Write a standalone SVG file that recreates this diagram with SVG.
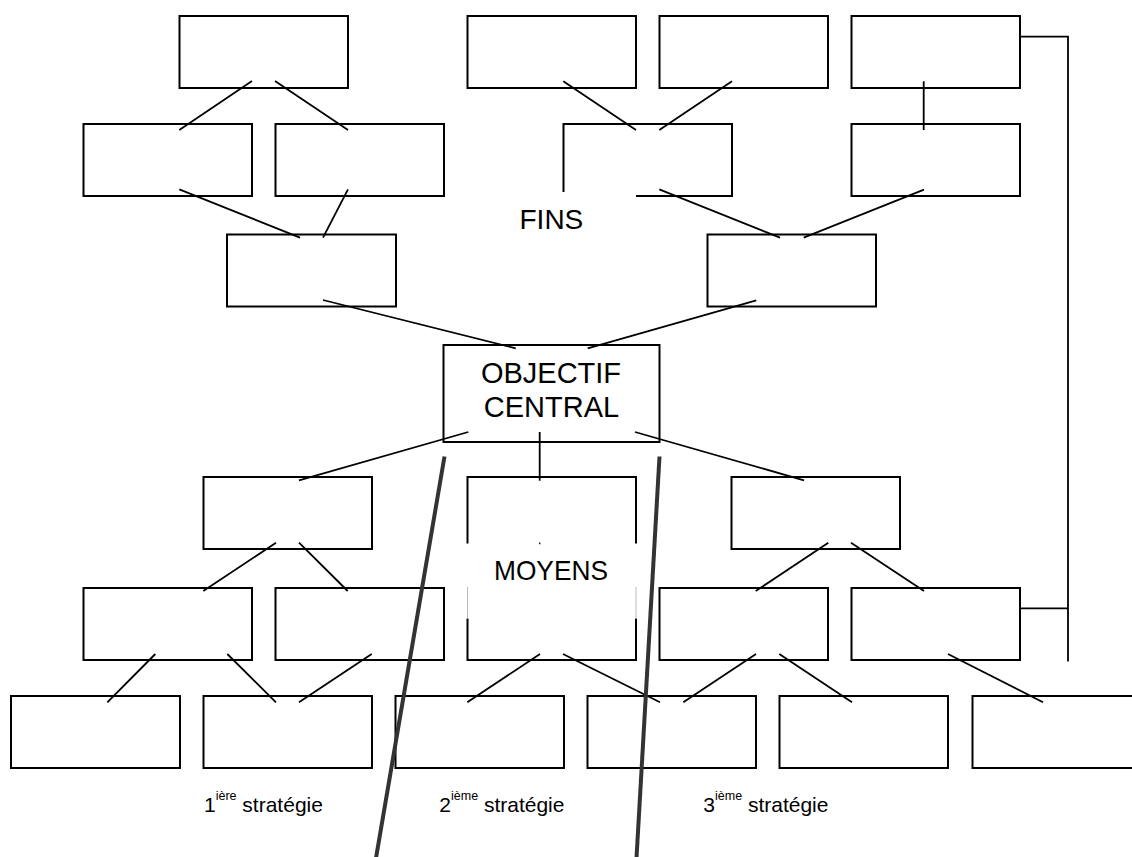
<svg xmlns="http://www.w3.org/2000/svg" width="1132" height="857" viewBox="0 0 1132 857">
<style>
.box{fill:none;stroke:#000;stroke-width:2}
.con line,.con path{stroke:#000;stroke-width:1.8;fill:none}
.lbl{font-family:"Liberation Sans",Arial,sans-serif;font-size:28px;fill:#000}
.str{font-family:"Liberation Sans",Arial,sans-serif;font-size:21px;fill:#000}
.sup{font-size:12.5px}
.sep{stroke:#333;stroke-width:4;fill:none}
</style>
<rect width="1132" height="857" fill="#fff"/>
<g id="r1a"><rect class="box" x="179.5" y="16" width="168.5" height="72"/></g>
<g id="r1b"><rect class="box" x="467.5" y="16" width="168.5" height="72"/></g>
<g id="r1c"><rect class="box" x="659.5" y="16" width="168.5" height="72"/></g>
<g id="r1d"><rect class="box" x="851.5" y="16" width="168.5" height="72"/></g>
<g id="r2a"><rect class="box" x="83.5" y="124" width="168.5" height="72"/></g>
<g id="r2b"><rect class="box" x="275.5" y="124" width="168.5" height="72"/></g>
<g id="r2c"><path class="box" d="M563.5,192 V124 H732 V196 H636"/></g>
<g id="r2d"><rect class="box" x="851.5" y="124" width="168.5" height="72"/></g>
<g id="fins"><text class="lbl" x="519.5" y="228.5">FINS</text></g>
<g id="r3a"><rect class="box" x="227" y="234.5" width="169" height="72"/></g>
<g id="r3b"><rect class="box" x="707.5" y="234.5" width="168.5" height="72"/></g>
<g id="objectif">
<rect class="box" x="443.5" y="345" width="216" height="97"/>
<text class="lbl" x="551" y="383.3" text-anchor="middle" font-size="29" style="font-size:29px">OBJECTIF</text>
<text class="lbl" x="551.5" y="417.3" text-anchor="middle" style="font-size:29px">CENTRAL</text>
</g>
<g id="r4a"><rect class="box" x="203.5" y="477" width="168.5" height="72"/></g>
<g id="moyens">
<path class="box" d="M467.5,543.5 V477 H636 V543.5 M467.5,618.5 V660 H636 V618.5"/>
<path d="M467.5,587 V618.5 M636,587 V618.5" stroke="#bbb" stroke-width="1" fill="none"/>
<text class="lbl" x="494" y="579.5" textLength="114" lengthAdjust="spacingAndGlyphs">MOYENS</text>
</g>
<g id="r4c"><rect class="box" x="731.5" y="477" width="168.5" height="72"/></g>
<g id="r5a"><rect class="box" x="83.5" y="588" width="168.5" height="72"/></g>
<g id="r5b"><rect class="box" x="275.5" y="588" width="168.5" height="72"/></g>
<g id="r5c"><rect class="box" x="659.5" y="588" width="168.5" height="72"/></g>
<g id="r5d"><rect class="box" x="851.5" y="588" width="168.5" height="72"/></g>
<g id="r6a"><rect class="box" x="11" y="696" width="169" height="72"/></g>
<g id="r6b"><rect class="box" x="203.5" y="696" width="168.5" height="72"/></g>
<g id="r6c"><rect class="box" x="395.5" y="696" width="168.5" height="72"/></g>
<g id="r6d"><rect class="box" x="587.5" y="696" width="168.5" height="72"/></g>
<g id="r6e"><rect class="box" x="779.5" y="696" width="168.5" height="72"/></g>
<g id="r6f"><rect class="box" x="972.5" y="696" width="170" height="72"/></g>
<g id="connectors" class="con">
<line x1="252" y1="81" x2="179.3" y2="130"/>
<line x1="275" y1="81" x2="348" y2="130"/>
<line x1="179.3" y1="189.3" x2="300" y2="237.7"/>
<line x1="348" y1="189.3" x2="323" y2="237.7"/>
<line x1="323" y1="300" x2="515.7" y2="348.3"/>
<line x1="563.3" y1="81.3" x2="636" y2="130"/>
<line x1="732" y1="81.3" x2="659.3" y2="130"/>
<line x1="923.7" y1="81.3" x2="923.7" y2="130"/>
<line x1="659.3" y1="189.3" x2="780" y2="237.7"/>
<line x1="924" y1="189.7" x2="803.7" y2="237.7"/>
<line x1="756.3" y1="300.3" x2="587.7" y2="348.3"/>
<path d="M1020,36.7 H1068 V661.5"/>
<line x1="1020" y1="608.3" x2="1068" y2="608.3"/>
<line x1="468.3" y1="432" x2="299" y2="480.3"/>
<line x1="539.7" y1="432" x2="539.7" y2="480.7"/>
<line x1="539.7" y1="542.6" x2="539.7" y2="544.2" style="stroke-width:1.3"/>
<line x1="635" y1="432" x2="804" y2="480.3"/>
<line x1="276" y1="542.7" x2="203.3" y2="591"/>
<line x1="299" y1="542.7" x2="347.7" y2="591"/>
<line x1="828.3" y1="542.7" x2="755.7" y2="591"/>
<line x1="851" y1="542.7" x2="924" y2="591"/>
<line x1="155.3" y1="654" x2="107.3" y2="702.3"/>
<line x1="227.3" y1="654" x2="276" y2="702.3"/>
<line x1="371.7" y1="654" x2="299" y2="702.3"/>
<line x1="540" y1="654" x2="467.3" y2="702.3"/>
<line x1="563" y1="654" x2="660" y2="702.3"/>
<line x1="756" y1="654" x2="683.3" y2="702.3"/>
<line x1="779.3" y1="654" x2="852" y2="702.3"/>
<line x1="948" y1="654" x2="1043" y2="702.3"/>
</g>
<g id="strategies">
<text class="str" x="204" y="812.3">1<tspan class="sup" dy="-12">ière</tspan><tspan dy="12"> stratégie</tspan></text>
<text class="str" x="439.3" y="812.3">2<tspan class="sup" dy="-12">ième</tspan><tspan dy="12"> stratégie</tspan></text>
<text class="str" x="703.3" y="812.3">3<tspan class="sup" dy="-12">ième</tspan><tspan dy="12"> stratégie</tspan></text>
</g>
<g id="separators">
<line class="sep" x1="444.5" y1="456.5" x2="376" y2="858"/>
<line class="sep" x1="659.5" y1="456.5" x2="636.5" y2="858"/>
</g>
</svg>
